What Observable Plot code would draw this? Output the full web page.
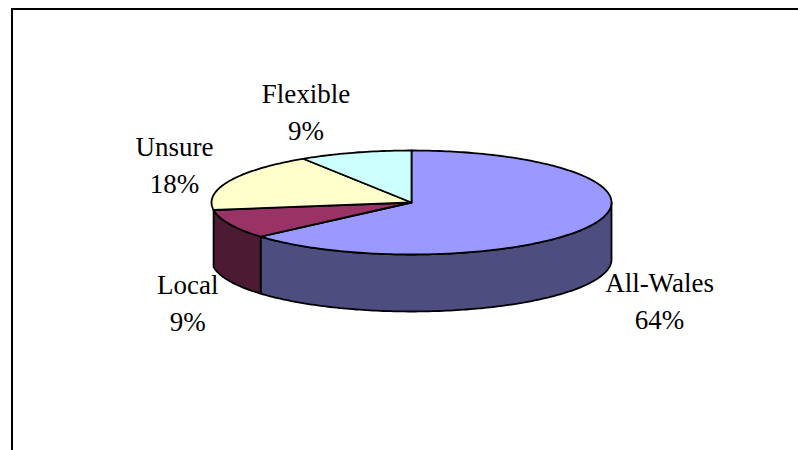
<!DOCTYPE html>
<html><head><meta charset="utf-8">
<script src="https://cdn.jsdelivr.net/npm/d3@7"></script>
<script src="https://cdn.jsdelivr.net/npm/@observablehq/plot@0.6"></script>
<style>
html,body{margin:0;padding:0;background:#fff;overflow:hidden}
#frame{position:absolute;left:11px;top:8px;width:787px;height:442px;border-top:2px solid #000;border-left:2px solid #000;box-sizing:border-box}
#chart{position:absolute;left:0;top:0}
svg{display:block;background:transparent}
</style></head><body>
<div id="frame"></div><div id="chart"></div>
<script>
const categories = ["All-Wales","Local","Unsure","Flexible"];
const shares = [63.6,9.1,18.2,9.1];
const percentLabels = [64,9,18,9];
const topColors = ["#9999FF","#993366","#FFFFCC","#CCFFFF"];
const sideColors = ["#4D4D80","#4D1A33","#808066","#668080"];
const labelOffsets = [[66,74.5],[-42,76],[-55,-18],[-49,-43]];

const depth = 1.096;
const total = d3.sum(shares);
const toRad = Math.PI/180;
const px = a => Math.sin(a*toRad), py = a => Math.cos(a*toRad);
const arcAngles = (a0,a1) => {
  const out=[a0];
  for(let a=Math.ceil(a0+0.01);a<a1;a++) out.push(a);
  out.push(a1);
  return out;
};
let acc=0;
const slices = categories.map((name,i)=>{
  const a0=acc/total*360; acc+=shares[i]; const a1=acc/total*360;
  return {name,i,a0,a1,mid:(a0+a1)/2};
});
const topPts=[], sidePts=[];
for(const s of slices){
  topPts.push({k:s.name,x:0,y:0,c:topColors[s.i]});
  for(const a of arcAngles(s.a0,s.a1)) topPts.push({k:s.name,x:px(a),y:py(a),c:topColors[s.i]});
  topPts.push({k:s.name,x:0,y:0,c:topColors[s.i]});
  const lo=Math.max(s.a0,90), hi=Math.min(s.a1,270);
  // a sliver narrower than a few degrees does not show on the reference's rim
  if(hi-lo>10){
    const arc=arcAngles(lo,hi);
    for(const a of arc) sidePts.push({k:s.name,x:px(a),y:py(a),c:sideColors[s.i]});
    for(const a of arc.slice().reverse()) sidePts.push({k:s.name,x:px(a),y:py(a)-depth,c:sideColors[s.i]});
    sidePts.push({k:s.name,x:px(lo),y:py(lo),c:sideColors[s.i]});
  }
}
const labelMarks = slices.map(s=>Plot.text([s],{
  x:d=>px(d.mid), y:d=>py(d.mid),
  text:d=>`${d.name}\n${percentLabels[d.i]}%`,
  dx:labelOffsets[s.i][0], dy:labelOffsets[s.i][1],
  lineHeight:1.37, lineAnchor:"middle", textAnchor:"middle",
  fill:"#000", fontFamily:"Liberation Serif", fontSize:27
}));
const chart = Plot.plot({
  width:798,height:450,margin:0,
  style:{background:"transparent"},
  x:{axis:null,domain:[-1,1],range:[211,611]},
  y:{axis:null,domain:[-1,1],range:[254,150]},
  color:{type:"identity"},
  marks:[
    Plot.line(sidePts,{x:"x",y:"y",z:"k",fill:"c",stroke:"#000",strokeWidth:1.8,strokeLinejoin:"round"}),
    Plot.line(topPts,{x:"x",y:"y",z:"k",fill:"c",stroke:"#000",strokeWidth:1.8,strokeLinejoin:"round"}),
    ...labelMarks
  ]
});
document.getElementById("chart").append(chart);
</script>
</body></html>
